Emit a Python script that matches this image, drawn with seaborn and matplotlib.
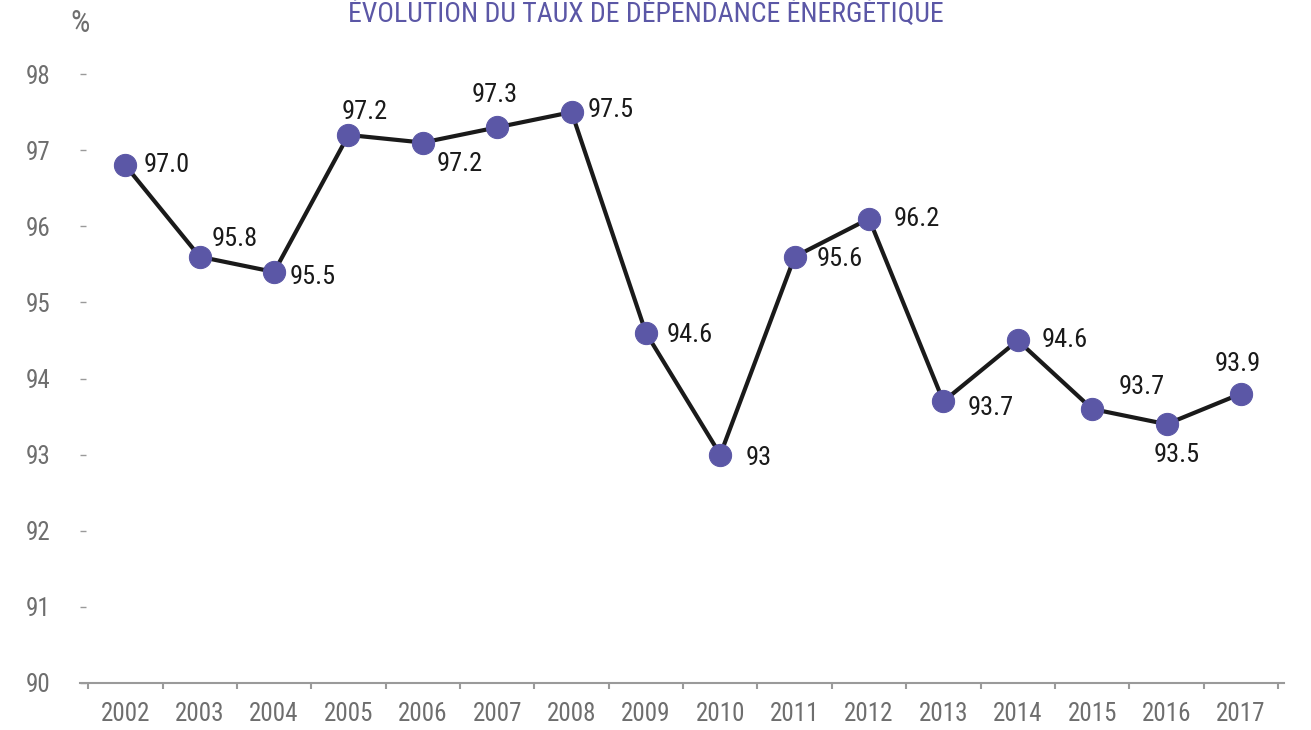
import matplotlib
matplotlib.use("Agg")
import matplotlib.pyplot as plt
from matplotlib import font_manager as fm
import seaborn as sns
import pandas as pd

annees = ["2002", "2003", "2004", "2005", "2006", "2007", "2008", "2009",
          "2010", "2011", "2012", "2013", "2014", "2015", "2016", "2017"]
taux = [96.8, 95.6, 95.4, 97.2, 97.1, 97.3, 97.5, 94.6,
        93.0, 95.6, 96.1, 93.7, 94.5, 93.6, 93.4, 93.8]
etiquettes = ["97.0", "95.8", "95.5", "97.2", "97.2", "97.3", "97.5", "94.6",
              "93", "95.6", "96.2", "93.7", "94.6", "93.7", "93.5", "93.9"]
# décalage des étiquettes en pixels (dx, dy, alignement)
decalages = [(18, 0, "left"), (12, 18, "left"), (16, -5, "left"), (16, 23, "center"),
             (14, -21, "left"), (-3, 32, "center"), (16, 2, "left"), (21, -2, "left"),
             (25, -3, "left"), (22, -2, "left"), (25, 0, "left"), (24, -7, "left"),
             (24, 0, "left"), (26, 22, "left"), (10, -31, "center"), (-3, 30, "center")]

violet = "#5b57a6"
gris = "#6e6e6e"


def police_etroite():
    """cherche une police condensée installée, sinon Liberation Sans"""
    ordre = ["Liberation Sans Narrow", "Roboto Condensed", "DejaVu Sans",
             "Noto Sans", "Open Sans", "Roboto"]
    cands = []
    for f in fm.fontManager.ttflist:
        etroit = (str(f.stretch) in ("condensed", "semi-condensed", "extra-condensed")
                  or "Narrow" in f.name or "Condensed" in f.name
                  or "Condensed" in f.fname or "Narrow" in f.fname)
        if not etroit or f.style != "normal":
            continue
        if f.weight not in (400, "normal", "regular", "book"):
            continue
        if "Bold" in f.fname or "Italic" in f.fname or "Light" in f.fname:
            continue
        rang = ordre.index(f.name) if f.name in ordre else len(ordre)
        cands.append((rang, f.fname))
    if cands:
        return fm.FontProperties(fname=sorted(cands)[0][1])
    return fm.FontProperties(family="Liberation Sans")


sns.set_style("white")
plt.rcParams["font.family"] = ["Liberation Sans", "DejaVu Sans"]
fp = police_etroite()


def police(taille):
    p = fp.copy()
    p.set_size(taille)
    return p


df = pd.DataFrame({"annee": annees, "taux": taux})

fig = plt.figure(figsize=(13.11, 7.3), dpi=100)
ax = fig.add_axes([80 / 1311, 1 - 683 / 730, (1284 - 80) / 1311, (683 - 36) / 730])

sns.lineplot(data=df, x="annee", y="taux", ax=ax, color="#1a1a1a", linewidth=3,
             marker="o", markersize=16, markerfacecolor=violet,
             markeredgecolor=violet, sort=False)

for i, (lab, (dx, dy, ha)) in enumerate(zip(etiquettes, decalages)):
    ax.annotate(lab, (i, taux[i]), xytext=(dx, dy), textcoords="offset pixels",
                ha=ha, va="center", fontproperties=police(19), color="#1a1a1a")

ax.set_xlim(-0.61, 15.58)
ax.set_ylim(90, 98.5)
ax.set_yticks(range(90, 99))
ax.set_xticks(range(len(annees)))
ax.set_xticklabels(annees)
ax.set_xticks([i - 0.5 for i in range(len(annees) + 1)], minor=True)
ax.set_xlabel("")
ax.set_ylabel("")

for s in ["top", "right", "left"]:
    ax.spines[s].set_visible(False)
ax.spines["bottom"].set_color("#9a9a9a")
ax.spines["bottom"].set_linewidth(1.5)

ax.tick_params(axis="y", which="major", direction="in", length=4.5, width=1,
               color="#9a9a9a", labelcolor=gris, pad=21, left=True)
ax.tick_params(axis="x", which="major", length=0, labelcolor=gris, pad=14)
ax.tick_params(axis="x", which="minor", direction="out", length=4.5, width=1.5,
               color="#9a9a9a", bottom=True)
for t in ax.get_xticklabels() + ax.get_yticklabels():
    t.set_fontproperties(police(18))

fig.text(80 / 1311, 1 - 23 / 730, "%", ha="center", va="center",
         fontproperties=police(22), color=gris)
fig.text(646 / 1311, 1 - 14 / 730, "ÉVOLUTION DU TAUX DE DÉPENDANCE ÉNERGÉTIQUE",
         ha="center", va="center", fontproperties=police(20), color=violet,
         fontweight="medium")

fig.savefig("out.png", dpi=100)
